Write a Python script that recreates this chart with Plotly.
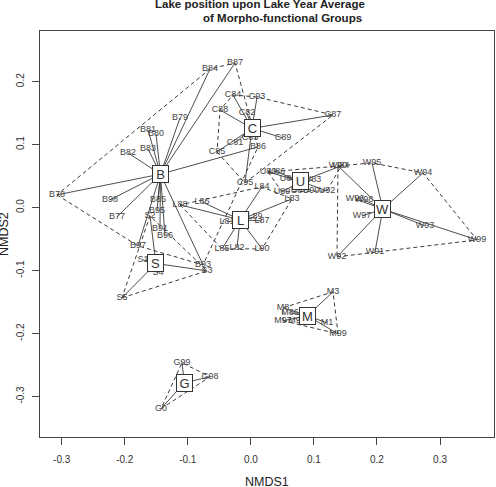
import plotly.graph_objects as go

# ---------------- data (NMDS scores) ----------------
B_labels = ["B84", "B87", "B79", "B81", "B80", "B83", "B82", "B78", "B98", "B77",
            "B85", "B95", "B97", "B91", "B96", "B93", "B86"]
B_x = [-0.0648, -0.0251, -0.1124, -0.1631, -0.1504, -0.1631, -0.1948, -0.3075, -0.2234, -0.2123,
       -0.1473, -0.1489, -0.1790, -0.1441, -0.1362, -0.0759, 0.0113]
B_y = [0.2202, 0.2297, 0.1424, 0.1233, 0.1170, 0.0932, 0.0868, 0.0202, 0.0122, -0.0148,
       0.0122, -0.0052, -0.0608, -0.0338, -0.0449, -0.0910, 0.0963]

C_labels = ["C84", "C93", "C88", "C82", "C81", "C85", "C89", "C87", "C95", "C83"]
C_x = [-0.0283, 0.0098, -0.0489, -0.0061, -0.0251, -0.0537, 0.0510, 0.1303, -0.0093, -0.0013]
C_y = [0.1789, 0.1757, 0.1551, 0.1503, 0.1027, 0.0884, 0.1106, 0.1471, 0.0392, 0.1106]

L_labels = ["L88", "L86", "L84", "L83", "L89", "L87", "L81", "L85", "L82", "L90"]
L_x = [-0.1124, -0.0775, 0.0177, 0.0653, 0.0066, 0.0177, -0.0378, -0.0458, -0.0220, 0.0177]
L_y = [0.0043, 0.0090, 0.0329, 0.0138, -0.0148, -0.0211, -0.0227, -0.0656, -0.0640, -0.0656]

U_labels = ["U80", "U86", "U85", "U83", "U89", "U87", "U90", "U92", "U84"]
U_x = [0.0272, 0.0415, 0.0589, 0.0986, 0.0494, 0.0764, 0.0954, 0.1208, 0.1430]
U_y = [0.0567, 0.0567, 0.0456, 0.0440, 0.0249, 0.0265, 0.0265, 0.0265, 0.0662]

W_labels = ["W90", "W95", "W94", "W96", "W98", "W97", "W93", "W99", "W91", "W92"]
W_x = [0.1382, 0.1921, 0.2730, 0.1652, 0.1795, 0.1763, 0.2762, 0.3587, 0.1969, 0.1366]
W_y = [0.0662, 0.0710, 0.0551, 0.0138, 0.0122, -0.0132, -0.0290, -0.0513, -0.0703, -0.0783]

S_labels = ["S1", "S2", "S3", "S4", "S5"]
S_x = [-0.1711, -0.1600, -0.0695, -0.1473, -0.2044]
S_y = [-0.0830, -0.0132, -0.1005, -0.1037, -0.1433]

M_labels = ["M3", "M99", "M1", "M8", "M86", "M97", "M90"]
M_x = [0.1303, 0.1382, 0.1208, 0.0510, 0.0621, 0.0510, 0.0732]
M_y = [-0.1338, -0.2005, -0.1830, -0.1592, -0.1671, -0.1798, -0.1798]

G_labels = ["G99", "G98", "G0"]
G_x = [-0.1092, -0.0648, -0.1425]
G_y = [-0.2465, -0.2687, -0.3195]

group_names = ["B", "C", "L", "U", "W", "S", "M", "G"]
x_ticks = [-0.3, -0.2, -0.1, 0.0, 0.1, 0.2, 0.3]
x_ticktext = ["-0.3", "-0.2", "-0.1", "0.0", "0.1", "0.2", "0.3"]
y_ticks = [-0.3, -0.2, -0.1, 0.0, 0.1, 0.2]
y_ticktext = ["-0.3", "-0.2", "-0.1", "0.0", "0.1", "0.2"]

groups = {
    "B": (B_labels, B_x, B_y), "C": (C_labels, C_x, C_y), "L": (L_labels, L_x, L_y),
    "U": (U_labels, U_x, U_y), "W": (W_labels, W_x, W_y), "S": (S_labels, S_x, S_y),
    "M": (M_labels, M_x, M_y), "G": (G_labels, G_x, G_y),
}

FONT = "Liberation Sans, Arial, sans-serif"
LINE = "#3a3a3a"


def convex_hull(pts):
    pts = sorted(set(pts))
    if len(pts) <= 2:
        return pts

    def cross(o, a, b):
        return (a[0] - o[0]) * (b[1] - o[1]) - (a[1] - o[1]) * (b[0] - o[0])

    lower, upper = [], []
    for p in pts:
        while len(lower) >= 2 and cross(lower[-2], lower[-1], p) <= 0:
            lower.pop()
        lower.append(p)
    for p in reversed(pts):
        while len(upper) >= 2 and cross(upper[-2], upper[-1], p) <= 0:
            upper.pop()
        upper.append(p)
    return lower[:-1] + upper[:-1]


fig = go.Figure()
annotations = []

# hulls
for g in group_names:
    labs, xs, ys = groups[g]
    hull = convex_hull(list(zip(xs, ys)))
    hx = [p[0] for p in hull] + [hull[0][0]]
    hy = [p[1] for p in hull] + [hull[0][1]]
    fig.add_trace(go.Scatter(x=hx, y=hy, mode="lines",
                             line=dict(color=LINE, width=1, dash="4px,3px"),
                             hoverinfo="skip"))

# spiders
centroids = {}
for g in group_names:
    labs, xs, ys = groups[g]
    cx = sum(xs) / len(xs)
    cy = sum(ys) / len(ys)
    centroids[g] = (cx, cy)
    sx, sy = [], []
    for x, y in zip(xs, ys):
        sx += [cx, x, None]
        sy += [cy, y, None]
    fig.add_trace(go.Scatter(x=sx, y=sy, mode="lines",
                             line=dict(color=LINE, width=0.9), hoverinfo="skip"))

# point labels
for g in group_names:
    labs, xs, ys = groups[g]
    fig.add_trace(go.Scatter(x=xs, y=ys, mode="text", text=labs,
                             textposition="middle center",
                             textfont=dict(family=FONT, size=9, color="#444"),
                             hoverinfo="text"))

# centroid boxes
for g in group_names:
    cx, cy = centroids[g]
    annotations.append(dict(x=cx, y=cy, xref="x", yref="y", text=g, showarrow=False,
                            font=dict(family=FONT, size=13, color="#333"),
                            bgcolor="white", bordercolor="#333", borderwidth=1,
                            borderpad=1, width=13, height=14,
                            xanchor="center", yanchor="middle"))

# title and axis titles
annotations.append(dict(xref="paper", yref="paper", x=0, y=1, xshift=260 - 40, yshift=27,
                        text="<b>Lake position upon Lake Year Average</b>", showarrow=False,
                        font=dict(family=FONT, size=11.5, color="#222"),
                        xanchor="center", yanchor="middle"))
annotations.append(dict(xref="paper", yref="paper", x=0, y=1, xshift=282 - 40, yshift=13,
                        text="<b>of Morpho-functional Groups</b>", showarrow=False,
                        font=dict(family=FONT, size=11.5, color="#222"),
                        xanchor="center", yanchor="middle"))
annotations.append(dict(xref="paper", yref="paper", x=0.5, y=0, yshift=-45,
                        text="NMDS1", showarrow=False,
                        font=dict(family=FONT, size=12.5, color="#222"),
                        xanchor="center", yanchor="middle"))
annotations.append(dict(xref="paper", yref="paper", x=0, y=0.5, xshift=-36,
                        text="NMDS2", showarrow=False, textangle=-90,
                        font=dict(family=FONT, size=12.5, color="#222"),
                        xanchor="center", yanchor="middle"))

fig.update_layout(
    template="none",
    width=496, height=487,
    margin=dict(l=40, r=2, t=31, b=50),
    plot_bgcolor="white", paper_bgcolor="white",
    showlegend=False,
    annotations=annotations,
    xaxis=dict(range=[-0.3344, 0.3856], tickvals=x_ticks, ticktext=x_ticktext,
               ticks="outside", ticklen=7, tickcolor="#444", tickwidth=1,
               showline=True, linecolor="#444", linewidth=1, mirror=True,
               showgrid=False, zeroline=False, automargin=False,
               tickfont=dict(family=FONT, size=10, color="#333"), ticklabelstandoff=6),
    yaxis=dict(range=[-0.3644, 0.2805], tickvals=y_ticks, ticktext=y_ticktext,
               ticks="outside", ticklen=7, tickcolor="#444", tickwidth=1,
               showline=True, linecolor="#444", linewidth=1, mirror=True,
               showgrid=False, zeroline=False, automargin=False, tickangle=-90,
               tickfont=dict(family=FONT, size=10, color="#333"), ticklabelstandoff=4),
)

fig.write_html("out.html")
